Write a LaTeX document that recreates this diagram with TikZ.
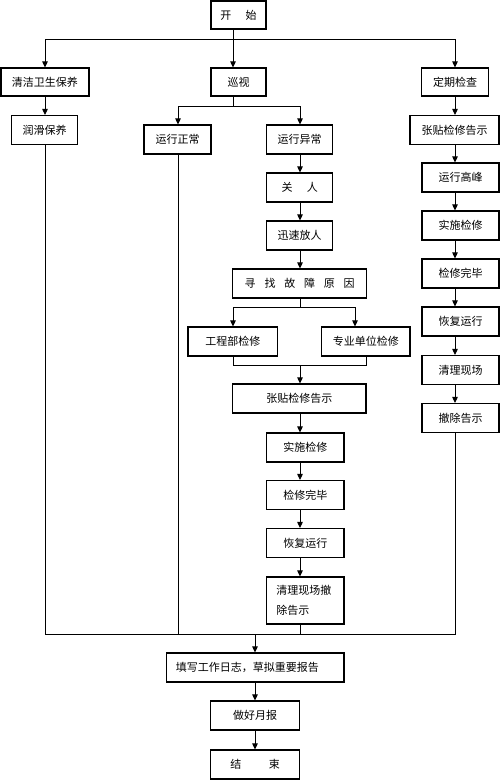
\documentclass[tikz,border=0pt]{standalone}
\usepackage{fontspec}
\newfontfamily\cjk{Noto Sans CJK SC}
\usetikzlibrary{arrows.meta}
\begin{document}
\begin{tikzpicture}[x=1pt,y=-1pt,
  box/.style={draw, line width=1.1pt, inner sep=0pt, font=\cjk\fontsize{11}{14}\selectfont},
  conn/.style={line width=0.9pt},
  arr/.style={conn,-{Triangle[length=6pt,width=5.5pt]}}]
\useasboundingbox (0,0) rectangle (500,780);
% column coordinates
\coordinate (c1) at (45,0);
\coordinate (c2) at (233,0);
\coordinate (c3) at (178,0);
\coordinate (c4) at (300,0);
\coordinate (c5) at (455,0);
\coordinate (c6) at (355,0);
\coordinate (c7) at (366,0);
% top row
\node[box, minimum width=55pt, minimum height=28pt] (start) at (238.5,15) {开\hspace{1.3em}始};
\node[box, minimum width=88pt, minimum height=28pt] (qj) at (45,82) {清洁卫生保养};
\node[box, minimum width=55pt, minimum height=28pt] (xs) at (238.5,82) {巡视};
\node[box, minimum width=66.6pt, minimum height=28pt] (dq) at (455,82) {定期检查};
% left
\node[box, minimum width=66pt, minimum height=29pt] (rh) at (44.7,130) {润滑保养};
% middle
\node[box, minimum width=67pt, minimum height=29pt] (zc) at (177.5,139.5) {运行正常};
\node[box, minimum width=66pt, minimum height=29pt] (yc) at (299.7,139.5) {运行异常};
\node[box, minimum width=66pt, minimum height=29pt] (gr) at (299.7,187.5) {关\hspace{1.3em}人};
\node[box, minimum width=66pt, minimum height=29pt] (fr) at (299.7,235.5) {迅速放人};
\node[box, minimum width=134pt, minimum height=29pt] (xz) at (299.7,283.5) {寻\hspace{0.8em}找\hspace{0.8em}故\hspace{0.8em}障\hspace{0.8em}原\hspace{0.8em}因};
\node[box, minimum width=89.7pt, minimum height=29pt] (gc) at (232.8,341.5) {工程部检修};
\node[box, minimum width=88.3pt, minimum height=29pt] (zy) at (365.8,341.5) {专业单位检修};
\node[box, minimum width=133.3pt, minimum height=29pt] (zt2) at (299.3,398.5) {张贴检修告示};
\node[box, minimum width=77.3pt, minimum height=29pt] (ss1) at (305.3,447.5) {实施检修};
\node[box, minimum width=77.3pt, minimum height=29pt] (wb1) at (305.3,495) {检修完毕};
\node[box, minimum width=77.3pt, minimum height=29pt] (hf1) at (305.3,543) {恢复运行};
\node[box, minimum width=77.3pt, minimum height=47pt, text width=58pt, align=left,
      font=\cjk\fontsize{11}{20}\selectfont] (ql1) at (305.3,600.5) {清理现场撤\\除告示};
% right
\node[box, minimum width=89pt, minimum height=29pt] (zt1) at (454.5,130) {张贴检修告示};
\node[box, minimum width=77pt, minimum height=29pt] (gf) at (460.5,177.5) {运行高峰};
\node[box, minimum width=77pt, minimum height=29pt] (ss2) at (460.5,225.5) {实施检修};
\node[box, minimum width=77pt, minimum height=29pt] (wb2) at (460.5,273.5) {检修完毕};
\node[box, minimum width=77pt, minimum height=29pt] (hf2) at (460.5,321.5) {恢复运行};
\node[box, minimum width=77pt, minimum height=29pt] (ql2) at (460.5,370) {清理现场};
\node[box, minimum width=77pt, minimum height=29pt] (cc2) at (460.5,418) {撤除告示};
% bottom
\node[box, minimum width=177.3pt, minimum height=29pt, text width=158.7pt, align=left] (tx) at (255.3,667.5) {填写工作日志，草拟重要报告};
\node[box, minimum width=88.6pt, minimum height=29pt] (yb) at (255,715.5) {做好月报};
\node[box, minimum width=88.6pt, minimum height=29pt] (js) at (255,764.5) {结\hspace{2.5em}束};
% rails
\coordinate (r1) at (233,39);
\coordinate (r2) at (233,106);
\coordinate (s1) at (300,307);
\coordinate (g1) at (233,365);
\coordinate (g2) at (366,365);
\coordinate (g3) at (300,365);
\coordinate (mL) at (45,634);
\coordinate (m3) at (178,634);
\coordinate (m4) at (300,634);
\coordinate (mR) at (455,634);
\coordinate (m) at (255,634);
% top fan-out
\draw[conn] (start.south -| r1) -- (r1);
\draw[arr] (r1) -| (qj.north -| c1);
\draw[arr] (r1) -- (xs.north -| r1);
\draw[arr] (r1) -| (dq.north -| c5);
% left column
\draw[arr] (qj.south -| c1) -- (rh.north -| c1);
% xunshi split
\draw[conn] (xs.south -| r2) -- (r2);
\draw[arr] (r2) -| (zc.north -| c3);
\draw[arr] (r2) -| (yc.north -| c4);
% middle chain
\draw[arr] (yc.south -| c4) -- (gr.north -| c4);
\draw[arr] (gr.south -| c4) -- (fr.north -| c4);
\draw[arr] (fr.south -| c4) -- (xz.north -| c4);
\draw[conn] (xz.south -| s1) -- (s1);
\draw[arr] (s1) -| (gc.north -| c2);
\draw[arr] (s1) -| (zy.north -| c6);
\draw[conn] (gc.south -| g1) -- (g1) -- (g2) -- (zy.south -| g2);
\draw[arr] (g3) -- (zt2.north -| g3);
\draw[arr] (zt2.south -| c4) -- (ss1.north -| c4);
\draw[arr] (ss1.south -| c4) -- (wb1.north -| c4);
\draw[arr] (wb1.south -| c4) -- (hf1.north -| c4);
\draw[arr] (hf1.south -| c4) -- (ql1.north -| c4);
% right chain
\draw[arr] (dq.south -| c5) -- (zt1.north -| c5);
\draw[arr] (zt1.south -| c5) -- (gf.north -| c5);
\draw[arr] (gf.south -| c5) -- (ss2.north -| c5);
\draw[arr] (ss2.south -| c5) -- (wb2.north -| c5);
\draw[arr] (wb2.south -| c5) -- (hf2.north -| c5);
\draw[arr] (hf2.south -| c5) -- (ql2.north -| c5);
\draw[arr] (ql2.south -| c5) -- (cc2.north -| c5);
% merge
\draw[conn] (rh.south -| mL) -- (mL) -- (mR) -- (cc2.south -| mR);
\draw[conn] (zc.south -| m3) -- (m3);
\draw[conn] (ql1.south -| m4) -- (m4);
\draw[arr] (m) -- (tx.north -| m);
\draw[arr] (tx.south -| m) -- (yb.north -| m);
\draw[arr] (yb.south -| m) -- (js.north -| m);
\end{tikzpicture}
\end{document}
